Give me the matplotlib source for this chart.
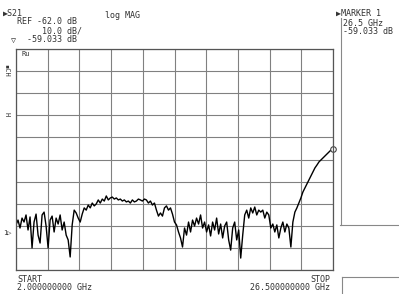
import matplotlib.pyplot as plt
import numpy as np

## Donnees (log MAG, dB)
f_start = 2.0   # GHz
f_stop = 26.5   # GHz
ref_haut = -54.5  # dB en haut de la grille
dB_div = 1.0
n_div = 10

trace_db = [
    -62.46, -62.24, -62.60, -62.15, -62.33, -62.01, -62.69, -62.10, -63.50, -62.33,
    -61.97, -62.92, -63.28, -62.01, -61.88, -62.51, -63.50, -62.24, -62.06, -62.78,
    -62.15, -62.42, -62.01, -62.69, -62.33, -62.92, -63.14, -63.91, -62.46, -61.79,
    -61.92, -62.15, -62.33, -61.97, -61.69, -61.79, -61.56, -61.69, -61.47, -61.60,
    -61.51, -61.33, -61.47, -61.29, -61.38, -61.15, -61.33, -61.24, -61.20, -61.29,
    -61.24, -61.33, -61.29, -61.38, -61.33, -61.42, -61.38, -61.47, -61.33, -61.42,
    -61.38, -61.29, -61.33, -61.38, -61.29, -61.33, -61.47, -61.38, -61.56, -61.47,
    -61.79, -62.06, -61.92, -62.06, -61.69, -61.60, -61.79, -61.69, -61.97, -62.33,
    -62.46, -62.78, -63.05, -63.46, -62.60, -62.92, -62.33, -62.78, -62.24, -62.51,
    -62.15, -62.42, -62.01, -62.60, -62.33, -62.78, -62.46, -62.96, -62.33, -62.69,
    -62.15, -62.87, -62.42, -63.05, -62.51, -62.33, -63.14, -63.60, -62.60, -62.33,
    -63.14, -62.69, -63.96, -62.92, -62.01, -61.79, -62.15, -61.69, -61.92, -61.65,
    -62.01, -61.79, -61.88, -61.79, -62.15, -61.88, -62.01, -62.60, -62.42, -62.78,
    -62.46, -63.05, -62.60, -62.33, -62.78, -62.42, -62.60, -63.46, -62.33, -61.88,
    -61.69, -61.47, -61.24, -60.97, -60.79, -60.61, -60.43, -60.25, -60.07, -59.88,
    -59.75, -59.61, -59.52, -59.43, -59.34, -59.25, -59.16, -59.07, -59.03,
]
freq = np.linspace(f_start, f_stop, len(trace_db))

marker_f = 26.5
marker_db = -59.033

encre = "#333333"
mono = "DejaVu Sans Mono"

fig = plt.figure(figsize=(3.99, 2.94), dpi=100)
ax = fig.add_axes([16/399, 1 - 270/294, 317/399, 221/294])

ax.set_xlim(f_start, f_stop)
ax.set_ylim(ref_haut - n_div*dB_div, ref_haut)
ax.set_xticks(np.linspace(f_start, f_stop, n_div + 1))
ax.set_yticks(np.linspace(ref_haut - n_div*dB_div, ref_haut, n_div + 1))
ax.tick_params(length=0, labelleft=False, labelbottom=False)
ax.grid(True, color="#808080", linewidth=0.8)
for s in ax.spines.values():
    s.set_color("#555555")
    s.set_linewidth(0.9)

ax.plot(freq, trace_db, color="black", linewidth=1.0)
ax.plot([marker_f], [marker_db], "o", markersize=4, markerfacecolor="white",
        markeredgecolor="#444444", markeredgewidth=0.8, clip_on=False)

## Textes de l'ecran
def txt(x, y, s, size=6, ha="left", **kw):
    fig.text(x/399, 1 - y/294, s, fontsize=size, family=mono, color=encre,
             ha=ha, va="center", **kw)

txt(3, 13, "▶S21")
txt(17, 22, "REF -62.0 dB")
txt(42, 31, "10.0 dB/")
txt(11, 40, "▽")
txt(27, 40, "-59.033 dB")
txt(105, 15, "log MAG")

txt(336, 13, "▶MARKER 1")
txt(343, 23, "26.5 GHz")
txt(343, 32, "-59.033 dB")

txt(3, 70, "▪CH", size=5, rotation=270)
txt(3, 114, "H", size=5, rotation=270)
txt(3, 233, "1▷", size=5)
txt(21, 54, "Ru", size=5)

txt(17, 279, "START", size=6)
txt(17, 288, "2.000000000 GHz", size=6)
txt(330, 279, "STOP", size=6, ha="right")
txt(330, 288, "26.500000000 GHz", size=6, ha="right")

# cadres du panneau de droite
fig.add_artist(plt.Line2D([341/399, 341/399], [1 - 18/294, 1 - 225/294],
                          color="#888888", linewidth=0.8))
fig.add_artist(plt.Line2D([340/399, 1], [1 - 225/294, 1 - 225/294],
                          color="#888888", linewidth=0.8))
fig.add_artist(plt.Line2D([342/399, 342/399], [1 - 277/294, 0],
                          color="#888888", linewidth=0.8))
fig.add_artist(plt.Line2D([342/399, 1], [1 - 277/294, 1 - 277/294],
                          color="#888888", linewidth=0.8))

fig.savefig("out.png", dpi=100)
